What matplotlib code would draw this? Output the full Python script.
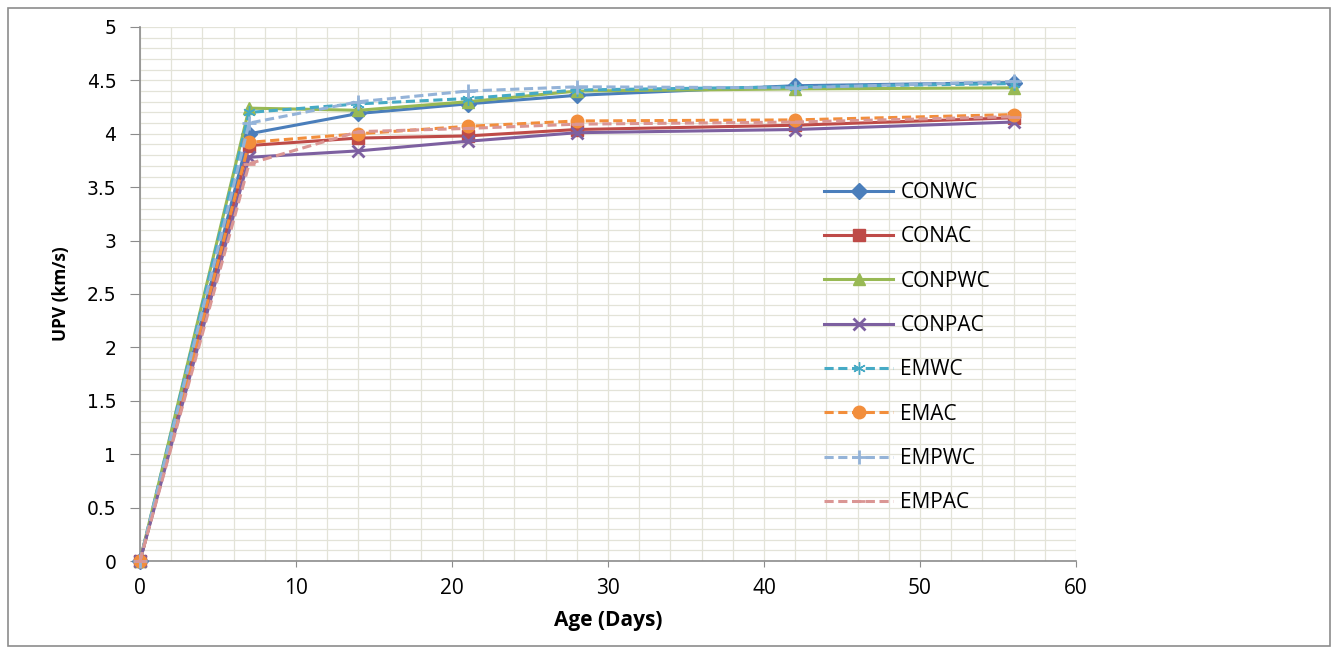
import matplotlib
matplotlib.use("Agg")
import matplotlib.pyplot as plt
from matplotlib.patches import Rectangle
from matplotlib.ticker import MultipleLocator

days = [0, 7, 14, 21, 28, 42, 56]
series_names = ["CONWC", "CONAC", "CONPWC", "CONPAC", "EMWC", "EMAC", "EMPWC", "EMPAC"]
conwc = [0, 4.00, 4.19, 4.28, 4.36, 4.45, 4.48]
conac = [0, 3.89, 3.96, 3.98, 4.04, 4.08, 4.15]
conpwc = [0, 4.24, 4.22, 4.30, 4.40, 4.42, 4.43]
conpac = [0, 3.78, 3.84, 3.93, 4.01, 4.04, 4.11]
emwc = [0, 4.20, 4.28, 4.33, 4.41, 4.44, 4.47]
emac = [0, 3.92, 4.00, 4.07, 4.12, 4.13, 4.18]
empwc = [0, 4.10, 4.30, 4.40, 4.44, 4.43, 4.49]
empac = [0, 3.72, 4.02, 4.05, 4.09, 4.11, 4.16]
values = [conwc, conac, conpwc, conpac, emwc, emac, empwc, empac]
x_ticks = [0, 10, 20, 30, 40, 50, 60]
y_ticks = [0, 0.5, 1, 1.5, 2, 2.5, 3, 3.5, 4, 4.5, 5]
y_tick_labels = ["0", "0.5", "1", "1.5", "2", "2.5", "3", "3.5", "4", "4.5", "5"]

colors = ["#4A7EBB", "#BE4B48", "#98B954", "#7D60A0", "#46AAC5", "#F28E3C", "#94B3D8", "#DA9694"]
markers = ["D", "s", "^", "x", (6, 2, 0), "o", "+", "_"]
styles = ["-", "-", "-", "-", "--", "--", "--", "--"]
msizes = [8, 9, 9, 9, 9, 9, 10, 8]

plt.rcParams['font.family'] = ['Open Sans', 'DejaVu Sans']

fig = plt.figure(figsize=(13.38, 6.5), dpi=100)
fig.patches.append(Rectangle((0.006, 0.006), 0.988, 0.982, transform=fig.transFigure,
                             fill=False, edgecolor="#8C8C8C", linewidth=1.2))
ax = fig.add_axes([0.1046, 0.1369, 0.6996, 0.8216])

for name, vals, c, m, ls, ms in zip(series_names, values, colors, markers, styles, msizes):
    ax.plot(days, vals, color=c, linestyle=ls, linewidth=2.2, marker=m, markersize=ms,
            markeredgewidth=2 if m in ("x", "+", "_") else 1, label=name,
            dashes=(3, 1.5) if ls == "--" else (None, None), zorder=3, clip_on=False)

ax.set_xlim(0, 60)
ax.set_ylim(0, 5)
ax.xaxis.set_minor_locator(MultipleLocator(2))
ax.yaxis.set_minor_locator(MultipleLocator(0.1))
ax.set_xticks(x_ticks)
ax.set_yticks(y_ticks)
ax.set_yticklabels(y_tick_labels, fontfamily="DejaVu Sans", fontsize=13.5)
ax.grid(True, which="both", color="#E3E3D8", linewidth=0.9, zorder=0)
ax.set_axisbelow(True)
ax.tick_params(which="minor", length=0)
ax.tick_params(axis="y", which="major", length=7, color="#8C8C8C", pad=10)
ax.tick_params(axis="x", which="major", length=4.5, color="#8C8C8C", pad=8, labelsize=15)
for s in ["top", "right"]:
    ax.spines[s].set_visible(False)
for s in ["left", "bottom"]:
    ax.spines[s].set_color("#8C8C8C")
    ax.spines[s].set_linewidth(1.2)

ax.set_xlabel("Age (Days)", fontsize=15, fontweight="bold", labelpad=8)
ax.set_ylabel("UPV (km/s)", fontsize=12.5, fontweight="bold", labelpad=12)

ax.legend(loc="upper left", bbox_to_anchor=(0.731, 0.71), frameon=False, fontsize=15,
          handlelength=3.3, labelspacing=1.12, borderpad=0, borderaxespad=0, handletextpad=0.35)

fig.savefig("out.png", dpi=100)
